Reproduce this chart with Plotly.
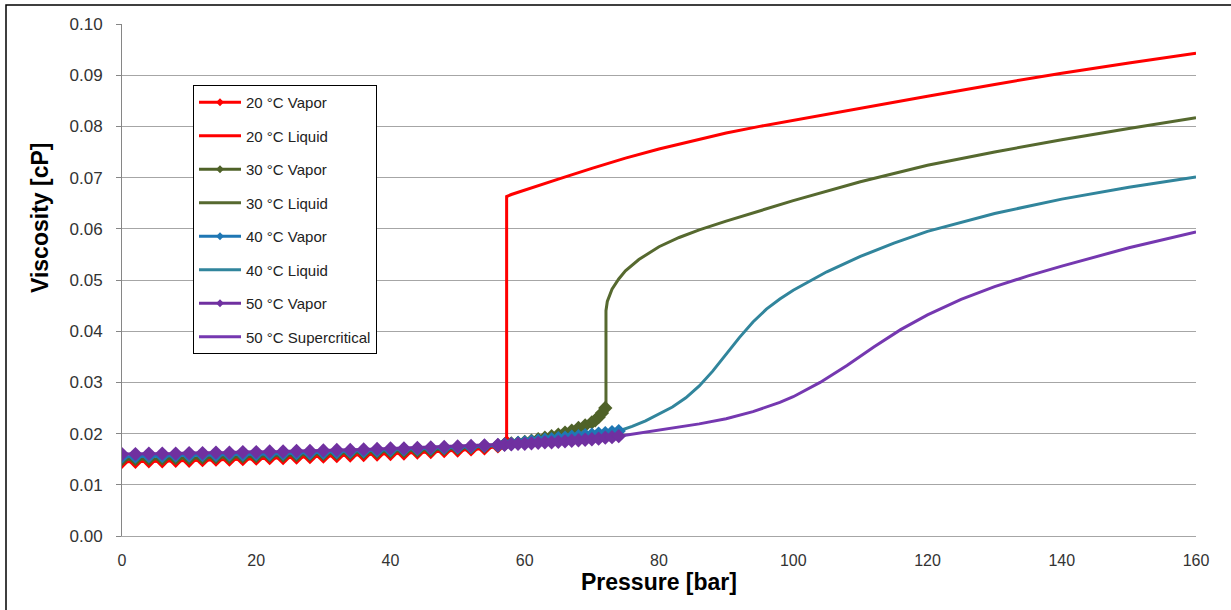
import plotly.graph_objects as go

# ---------------- data ----------------
p20_vap = [0, 2, 4, 6, 8, 10, 12, 14, 16, 18, 20, 22, 24, 26, 28, 30, 32, 34, 36, 38,
           40, 42, 44, 46, 48, 50, 52, 54, 56, 57.3]
v20_vap = [0.0145, 0.0145, 0.0146, 0.0146, 0.0147, 0.0147, 0.0148, 0.0149, 0.0149, 0.0150,
           0.0151, 0.0152, 0.0152, 0.0153, 0.0154, 0.0155, 0.0156, 0.0157, 0.0158, 0.0159,
           0.0160, 0.0161, 0.0163, 0.0164, 0.0166, 0.0167, 0.0169, 0.0171, 0.0175, 0.0183]
p20_liq = [57.3, 57.3, 58, 60, 62, 65, 70, 75, 80, 85, 90, 95, 100, 110, 120, 130, 140, 150, 160]
v20_liq = [0.0183, 0.0663, 0.0667, 0.0676, 0.0685, 0.0697, 0.0718, 0.0738, 0.0756, 0.0772,
           0.0787, 0.0800, 0.0812, 0.0836, 0.0859, 0.0882, 0.0904, 0.0924, 0.0943]

p30_vap = [0, 2, 4, 6, 8, 10, 12, 14, 16, 18, 20, 22, 24, 26, 28, 30, 32, 34, 36, 38,
           40, 42, 44, 46, 48, 50, 52, 54, 56, 57, 58, 59, 60, 61, 62, 63, 64, 65, 66, 67,
           68, 69, 70, 70.5, 71, 71.5, 72]
v30_vap = [0.0150, 0.0150, 0.0151, 0.0151, 0.0152, 0.0152, 0.0153, 0.0154, 0.0154, 0.0155,
           0.0156, 0.0157, 0.0157, 0.0158, 0.0159, 0.0160, 0.0161, 0.0162, 0.0163, 0.0164,
           0.0165, 0.0166, 0.0167, 0.0168, 0.0170, 0.0171, 0.0173, 0.0175, 0.0177, 0.0179,
           0.0181, 0.0182, 0.0184, 0.0186, 0.0189, 0.0192, 0.0195, 0.0198, 0.0202, 0.0206,
           0.0211, 0.0216, 0.0222, 0.0226, 0.0232, 0.0240, 0.0250]
p30_liq = [72.1, 72.1, 72.3, 72.6, 73, 74, 75, 77, 80, 83, 86, 90, 95, 100, 110, 120, 130, 140, 150, 160]
v30_liq = [0.0250, 0.0440, 0.0458, 0.0470, 0.0482, 0.0502, 0.0518, 0.0540, 0.0565, 0.0583,
           0.0598, 0.0615, 0.0635, 0.0655, 0.0692, 0.0724, 0.0750, 0.0774, 0.0796, 0.0817]

p40_vap = [0, 2, 4, 6, 8, 10, 12, 14, 16, 18, 20, 22, 24, 26, 28, 30, 32, 34, 36, 38,
           40, 42, 44, 46, 48, 50, 52, 54, 56, 57, 58, 59, 60, 61, 62, 63, 64, 65, 66, 67,
           68, 69, 70, 71, 72, 73, 74]
v40_vap = [0.0155, 0.0155, 0.0156, 0.0156, 0.0157, 0.0157, 0.0158, 0.0158, 0.0159, 0.0159,
           0.0160, 0.0160, 0.0161, 0.0162, 0.0162, 0.0163, 0.0164, 0.0165, 0.0166, 0.0167,
           0.0168, 0.0169, 0.0170, 0.0171, 0.0172, 0.0173, 0.0174, 0.0176, 0.0177, 0.0179,
           0.0180, 0.0182, 0.0183, 0.0185, 0.0186, 0.0188, 0.0189, 0.0191, 0.0192, 0.0194,
           0.0195, 0.0197, 0.0198, 0.0200, 0.0201, 0.0203, 0.0205]
p40_liq = [74, 76, 78, 80, 82, 84, 86, 88, 90, 92, 94, 96, 98, 100, 105, 110, 115, 120, 130, 140, 150, 160]
v40_liq = [0.0205, 0.0214, 0.0225, 0.0238, 0.0252, 0.0270, 0.0293, 0.0322, 0.0355, 0.0388,
           0.0418, 0.0443, 0.0463, 0.0480, 0.0516, 0.0546, 0.0572, 0.0595, 0.0630, 0.0658,
           0.0681, 0.0701]

p50_vap = [0, 2, 4, 6, 8, 10, 12, 14, 16, 18, 20, 22, 24, 26, 28, 30, 32, 34, 36, 38,
           40, 42, 44, 46, 48, 50, 52, 54, 56, 57, 58, 59, 60, 61, 62, 63, 64, 65, 66, 67,
           68, 69, 70, 71, 72, 73, 74]
v50_vap = [0.0160, 0.0160, 0.0161, 0.0161, 0.0161, 0.0162, 0.0162, 0.0163, 0.0163, 0.0164,
           0.0164, 0.0165, 0.0165, 0.0166, 0.0166, 0.0167, 0.0168, 0.0168, 0.0169, 0.0170,
           0.0171, 0.0171, 0.0172, 0.0173, 0.0174, 0.0175, 0.0176, 0.0177, 0.0178, 0.0178,
           0.0179, 0.0180, 0.0180, 0.0181, 0.0182, 0.0183, 0.0183, 0.0184, 0.0185, 0.0186,
           0.0187, 0.0188, 0.0189, 0.0190, 0.0192, 0.0193, 0.0195]
p50_sc = [74, 78, 82, 86, 90, 94, 98, 100, 104, 108, 112, 116, 120, 125, 130, 135, 140, 150, 160]
v50_sc = [0.0195, 0.0203, 0.0211, 0.0219, 0.0229, 0.0243, 0.0261, 0.0272, 0.0300, 0.0333,
          0.0369, 0.0403, 0.0432, 0.0462, 0.0487, 0.0508, 0.0527, 0.0563, 0.0594]

x_ticks = [0, 20, 40, 60, 80, 100, 120, 140, 160]
y_ticks = [0.00, 0.01, 0.02, 0.03, 0.04, 0.05, 0.06, 0.07, 0.08, 0.09, 0.10]

series = [
    ("20 °C Vapor", p20_vap, v20_vap, "#FF0000", True),
    ("20 °C Liquid", p20_liq, v20_liq, "#FF0000", False),
    ("30 °C Vapor", p30_vap, v30_vap, "#4F6228", True),
    ("30 °C Liquid", p30_liq, v30_liq, "#56692F", False),
    ("40 °C Vapor", p40_vap, v40_vap, "#1F77B4", True),
    ("40 °C Liquid", p40_liq, v40_liq, "#31859C", False),
    ("50 °C Vapor", p50_vap, v50_vap, "#7030A0", True),
    ("50 °C Supercritical", p50_sc, v50_sc, "#7538B0", False),
]

SANS = "'Liberation Sans', Arial, sans-serif"

fig = go.Figure()
order = [1, 3, 5, 7, 0, 2, 4, 6]
for i in order:
    name, xs, ys, col, vap = series[i]
    fig.add_trace(go.Scatter(
        x=xs, y=ys, name=name, legendgroup=name, showlegend=False,
        mode="lines+markers" if vap else "lines",
        line=dict(color=col, width=3),
        marker=dict(symbol="diamond", size=11, color=col) if vap else None,
        hoverinfo="skip",
    ))
for name, xs, ys, col, vap in series:
    fig.add_trace(go.Scatter(
        x=[None], y=[None], name=name, legendgroup=name, showlegend=True,
        mode="lines+markers" if vap else "lines",
        line=dict(color=col, width=3),
        marker=dict(symbol="diamond", size=6, color=col) if vap else None,
    ))

L, R, T, B = 122, 35, 24, 74
W, H = 1231, 610
pw, ph = W - L - R, H - T - B

fig.update_layout(
    width=W, height=H,
    margin=dict(l=L, r=R, t=T, b=B),
    paper_bgcolor="white", plot_bgcolor="white",
    font=dict(family=SANS, color="#222222"),
    showlegend=True,
    legend=dict(
        x=(193 - L) / pw, y=(536 - 85) / ph, xanchor="left", yanchor="top",
        bgcolor="white", bordercolor="#000000", borderwidth=1,
        font=dict(family=SANS, size=15, color="#222222"),
        tracegroupgap=11, itemwidth=42,
    ),
    xaxis=dict(
        range=[0, 160], tickvals=x_ticks, ticktext=[str(v) for v in x_ticks],
        showgrid=False, zeroline=False,
        showline=True, linecolor="#A6A6A6", linewidth=1,
        ticks="", ticklabelstandoff=10,
        tickfont=dict(size=16, family=SANS, color="#333333"),
    ),
    yaxis=dict(
        range=[0, 0.10], tickvals=y_ticks, ticktext=["%.2f" % v for v in y_ticks],
        showgrid=True, gridcolor="#A6A6A6", gridwidth=1, zeroline=False,
        showline=True, linecolor="#868686", linewidth=1,
        ticks="outside", ticklen=5, tickcolor="#868686", ticklabelstandoff=10,
        tickfont=dict(size=17, family=SANS, color="#333333"),
    ),
    annotations=[
        dict(text="<b>Pressure [bar]</b>", xref="paper", yref="paper",
             x=(659 - L) / pw, y=(536 - 582) / ph, xanchor="center", yanchor="middle",
             showarrow=False, font=dict(size=23, family=SANS, color="#000000")),
        dict(text="<b>Viscosity [cP]</b>", xref="paper", yref="paper",
             x=(40 - L) / pw, y=(536 - 218) / ph, xanchor="center", yanchor="middle",
             textangle=-90, showarrow=False,
             font=dict(size=23, family=SANS, color="#000000")),
    ],
    shapes=[dict(type="rect", xref="paper", yref="paper",
                 x0=(6 - L) / pw, x1=(W + 20 - L) / pw,
                 y0=(536 - (H + 20)) / ph, y1=(536 - 5) / ph,
                 line=dict(color="#000000", width=1.5), fillcolor="rgba(0,0,0,0)", layer="below")],
)

fig.write_html("out.html")
